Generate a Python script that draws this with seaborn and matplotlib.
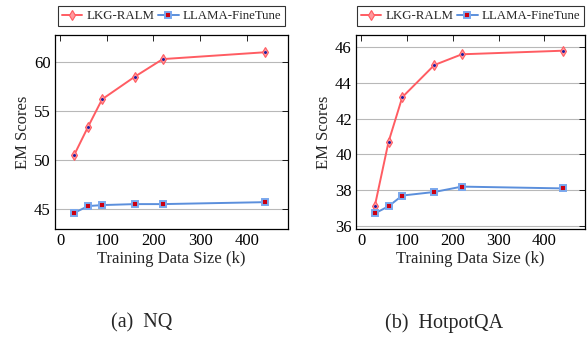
import pandas as pd
import seaborn as sns
import matplotlib
matplotlib.use('Agg')
import matplotlib.pyplot as plt

train_size = [30, 60, 90, 160, 220, 440]

nq_lkg = [50.5, 53.4, 56.2, 58.5, 60.3, 61.0]
nq_llama = [44.6, 45.3, 45.4, 45.5, 45.5, 45.7]

hotpot_lkg = [37.1, 40.7, 43.2, 45.0, 45.6, 45.8]
hotpot_llama = [36.7, 37.1, 37.7, 37.9, 38.2, 38.1]

panels = [
    ('(a)  NQ', 142 / 588, nq_lkg, nq_llama, (42.96, 62.76), [45, 50, 55, 60]),
    ('(b)  HotpotQA', 444 / 588, hotpot_lkg, hotpot_llama, (35.83, 46.68),
     [36, 38, 40, 42, 44, 46]),
]

red = '#ff5c62'
blue = '#5b8fdc'

sns.set_style('white')
plt.rcParams['font.family'] = ['Liberation Serif', 'DejaVu Serif']

fig = plt.figure(figsize=(5.88, 3.38), dpi=100)
ax_pos = [[0.0935, 0.3225, 0.396, 0.574], [0.6054, 0.3225, 0.389, 0.574]]

for pos, (caption, cap_x, lkg, llama, ylim, yticks) in zip(ax_pos, panels):
    ax = fig.add_axes(pos)
    df = pd.DataFrame({'size': train_size, 'lkg': lkg, 'llama': llama})

    sns.lineplot(data=df, x='size', y='lkg', ax=ax, color=red, lw=1.4,
                 marker='d', markersize=5, markerfacecolor='#ff9a9e',
                 markeredgecolor=red, markeredgewidth=0.8, label='LKG-RALM')
    sns.lineplot(data=df, x='size', y='llama', ax=ax, color=blue, lw=1.4,
                 marker='s', markersize=4.5, markerfacecolor='#cc0011',
                 markeredgecolor='#7aa8ee', markeredgewidth=1.4,
                 label='LLAMA-FineTune')
    # small dark-blue dot in the centre of the diamonds
    ax.plot(df['size'], df['lkg'], ls='none', marker='.', ms=2.2,
            color='#1a1aa0')

    ax.set_xlim(-11, 488)
    ax.set_ylim(*ylim)
    ax.set_xticks([0, 100, 200, 300, 400])
    ax.set_yticks(yticks)
    ax.yaxis.grid(True, color='#b8b8b8', lw=0.8)
    ax.xaxis.grid(False)
    ax.tick_params(direction='in', top=True, right=True, length=4,
                   width=0.6, labelsize=12, colors='black', pad=3)
    for sp in ax.spines.values():
        sp.set_color('black')
        sp.set_linewidth(0.9)

    ax.set_xlabel('Training Data Size (k)', fontsize=12, labelpad=1)
    ax.set_ylabel('EM Scores', fontsize=12, labelpad=2)

    leg = ax.legend(loc='lower center', bbox_to_anchor=(0.5, 1.045), ncol=2,
                    fontsize=9.3, frameon=True, fancybox=False,
                    handlelength=1.6, handletextpad=0.3, columnspacing=0.3,
                    borderpad=0.3, borderaxespad=0)
    leg.get_frame().set_edgecolor('black')
    leg.get_frame().set_linewidth(0.8)

    fig.text(cap_x, 1 - 323 / 338, caption, ha='center', va='center',
             fontsize=14.5)

fig.savefig('out.png', dpi=100)
